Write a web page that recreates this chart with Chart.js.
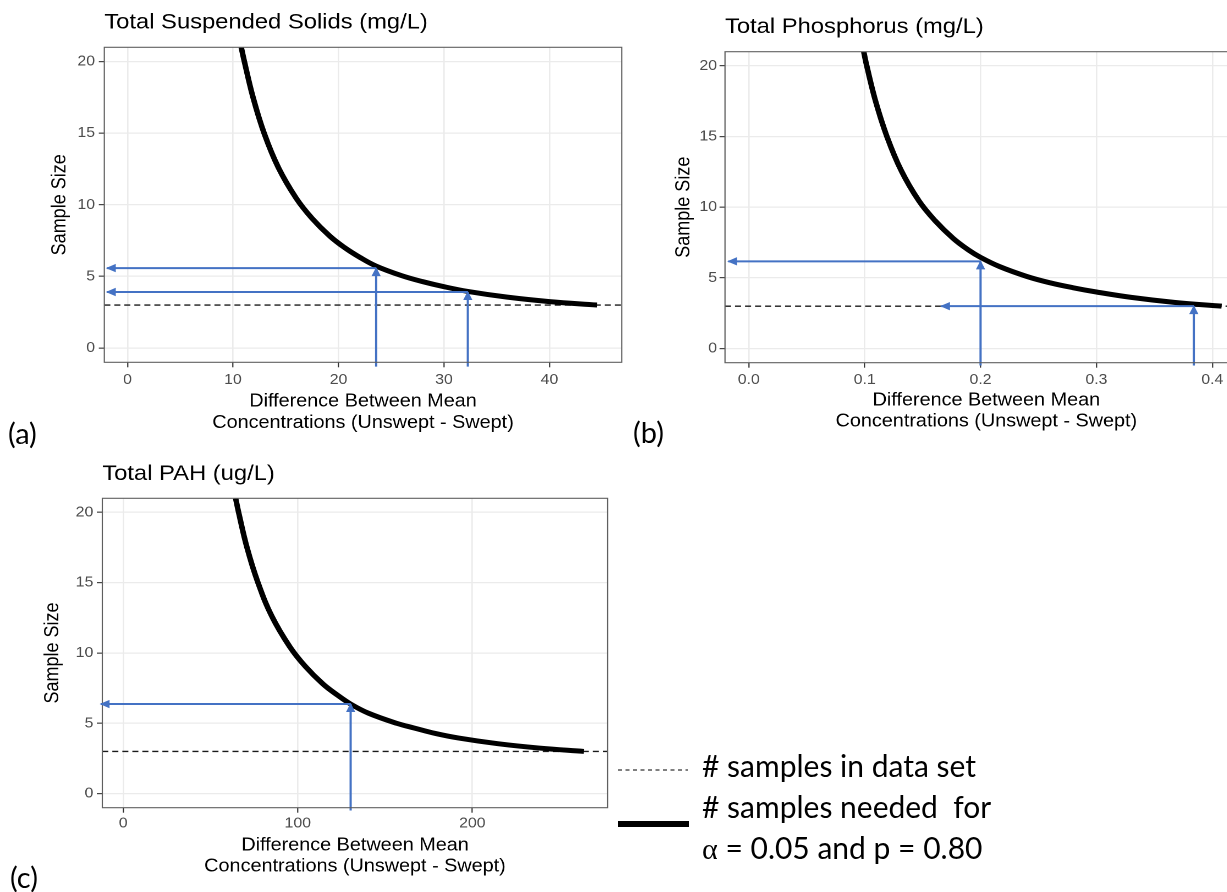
<!DOCTYPE html>
<html>
<head>
<meta charset="utf-8">
<title>Sample size vs difference between means</title>
<script src="https://cdn.jsdelivr.net/npm/chart.js@4.4.1/dist/chart.umd.min.js"></script>
<style>
  html, body { margin: 0; padding: 0; background: #fff; }
  body { width: 1227px; height: 892px; position: relative; overflow: hidden; }
  canvas.panel { position: absolute; transform-origin: 0 0; transform: scaleX(1.1); }
  #overlay { position: absolute; left: 0; top: 0; }
</style>
</head>
<body>
<canvas id="chartA" class="panel" width="570" height="440" style="left:0px;top:0px"></canvas>
<canvas id="chartB" class="panel" width="568" height="440" style="left:630px;top:0px"></canvas>
<canvas id="chartC" class="panel" width="556" height="442" style="left:0px;top:450px"></canvas>

<svg id="overlay" width="1227" height="892" xmlns="http://www.w3.org/2000/svg">
  <g font-family="Lato, 'Open Sans', sans-serif" fill="#000">
    <text x="8" y="444" font-size="29">(a)</text>
    <text x="633" y="443" font-size="29">(b)</text>
    <text x="10" y="888" font-size="29">(c)</text>
    <line x1="618" y1="770" x2="688" y2="770" stroke="#000" stroke-width="1" stroke-dasharray="4 3.5"></line>
    <line x1="618" y1="824" x2="689" y2="824" stroke="#000" stroke-width="6"></line>
    <text x="702" y="777" font-size="30">&#35; samples in data set</text>
    <text x="702" y="818" font-size="30" style="white-space:pre"># samples needed  for</text>
    <text x="702" y="859" font-size="30"><tspan font-family="'Liberation Serif', serif">α</tspan> = 0.05 and p = 0.80</text>
  </g>
</svg>

<script>
'use strict';

// ---------- data ----------
var yTicks = [0, 5, 10, 15, 20];
var yTickLabels = ['0', '5', '10', '15', '20'];
var samplesInDataSet = 3;

// (a) Total Suspended Solids
var tssDiff = [10.78, 11.08, 11.9, 12.95, 14.3, 16.0, 17.5, 19.2, 20.6, 22.05, 23.57, 26, 28, 30, 32.26, 36, 40, 44.5];
var tssSize = [21, 20, 17.5, 15, 12.6, 10.45, 9.05, 7.8, 7.0, 6.32, 5.72, 5.05, 4.63, 4.28, 3.95, 3.55, 3.24, 3.0];
var tssTicks = [0, 10, 20, 30, 40];
var tssTickLabels = ['0', '10', '20', '30', '40'];
var tssArrowDiff = [23.57, 32.26];
var tssArrowSize = [5.58, 3.91];
var tssArrowTip = [-1.95, -1.95];

// (b) Total Phosphorus
var tpDiff = [0.0992, 0.1018, 0.1094, 0.1192, 0.1315, 0.1468, 0.1607, 0.1763, 0.1891, 0.2, 0.2164, 0.24, 0.26, 0.28, 0.3, 0.33, 0.367, 0.408];
var tpSize = [21, 20, 17.5, 15, 12.6, 10.45, 9.05, 7.8, 7.0, 6.45, 5.8, 5.1, 4.65, 4.3, 4.0, 3.62, 3.27, 3.0];
var tpTicks = [0, 0.1, 0.2, 0.3, 0.4];
var tpTickLabels = ['0.0', '0.1', '0.2', '0.3', '0.4'];
var tpArrowDiff = [0.2, 0.384];
var tpArrowSize = [6.17, 3.0];
var tpArrowTip = [-0.0177, 0.166];

// (c) Total PAH
var pahDiff = [64.4, 66.1, 70.9, 77.2, 85.2, 95.4, 104.3, 114.4, 122.8, 130.3, 140.5, 156.7, 166.9, 178.8, 192.3, 214.6, 238.4, 264];
var pahSize = [21, 20, 17.5, 15, 12.6, 10.45, 9.05, 7.8, 7.0, 6.37, 5.72, 5.0, 4.66, 4.28, 3.95, 3.55, 3.24, 3.0];
var pahTicks = [0, 100, 200];
var pahTickLabels = ['0', '100', '200'];
var pahArrowDiff = [130.3];
var pahArrowSize = [6.37];
var pahArrowTip = [-12.9];

// ---------- look ----------
var STRETCH = 1.1;
var FONT = "'Liberation Sans', Arial, Helvetica, sans-serif";
var TICK_LEN = 5;
var TITLE_FONT = { family: FONT, size: 21.6, lineHeight: 1.2, weight: 'normal' };
var AXIS_FONT = { family: FONT, size: 18, lineHeight: 1.18, weight: 'normal' };
var TICK_FONT = { family: FONT, size: 14.4, lineHeight: 1.2, weight: 'normal' };
var ARROW_BLUE = '#4472C4';

/** page-pixel placement of each panel */
var layoutA = { left: 0, top: 0, area: [104.3, 47.3, 621.7, 362.3], titleY: 22.5, yTitleX: 60, yLabelRight: 95, xLabelY: 380, xTitleY: 423 };
var layoutB = { left: 630, top: 0, area: [725, 51.7, 1247.7, 362.7], titleY: 27, yTitleX: 684, yLabelRight: 717, xLabelY: 380, xTitleY: 421.7 };
var layoutC = { left: 0, top: 450, area: [102.3, 498.3, 607.7, 807.7], titleY: 474, yTitleX: 53, yLabelRight: 93.3, xLabelY: 823.3, xTitleY: 866.7 };

/** zip two arrays into {x, y} points */
function toPoints(xs, ys) {
  return xs.map(function (x, i) { return { x: x, y: ys[i] }; });
}

function drawArrowHead(ctx, from, to, color) {
  var ang = Math.atan2(to.y - from.y, to.x - from.x);
  ctx.save();
  ctx.translate(to.x, to.y);
  ctx.rotate(ang);
  ctx.fillStyle = color;
  ctx.beginPath();
  ctx.moveTo(1, 0);
  ctx.lineTo(-8, -4.2);
  ctx.lineTo(-8, 4.2);
  ctx.closePath();
  ctx.fill();
  ctx.restore();
}

/** dashed reference line, panel border and arrow heads */
var panelDecor = {
  id: 'panelDecor',
  beforeDatasetsDraw: function (chart, args, opts) {
    var ctx = chart.ctx;
    var area = chart.chartArea;
    var y = chart.scales.y.getPixelForValue(opts.refLine);
    ctx.save();
    ctx.beginPath();
    ctx.rect(area.left, area.top, area.width, area.height);
    ctx.clip();
    ctx.setLineDash([5.5, 3.6]);
    ctx.strokeStyle = '#1a1a1a';
    ctx.lineWidth = 1.4;
    ctx.beginPath();
    ctx.moveTo(area.left, y);
    ctx.lineTo(area.right, y);
    ctx.stroke();
    ctx.restore();
  },
  afterDatasetsDraw: function (chart) {
    var ctx = chart.ctx;
    var area = chart.chartArea;
    ctx.save();
    ctx.strokeStyle = '#5f5f5f';
    ctx.lineWidth = 1.1;
    ctx.strokeRect(area.left, area.top, area.width, area.height);
    ctx.restore();
    chart.data.datasets.forEach(function (ds, i) {
      if (!ds.arrow) return;
      var pts = chart.getDatasetMeta(i).data;
      drawArrowHead(ctx, pts[pts.length - 2], pts[pts.length - 1], ds.borderColor);
    });
  }
};

function arrowDataset(points) {
  return {
    data: points,
    arrow: true,
    showLine: true,
    borderColor: ARROW_BLUE,
    borderWidth: 2,
    pointRadius: 0,
    clip: false
  };
}

function makeChart(canvasId, spec, lay) {
  var canvas = document.getElementById(canvasId);
  var W = canvas.width;
  var H = canvas.height;
  var s = STRETCH;
  var cl = (lay.area[0] - lay.left) / s;
  var ct = lay.area[1] - lay.top;
  var cr = (lay.area[2] - lay.left) / s;
  var cb = lay.area[3] - lay.top;

  var titleLH = TITLE_FONT.size * TITLE_FONT.lineHeight;
  var axisLH = AXIS_FONT.size * AXIS_FONT.lineHeight;
  var tickLH = TICK_FONT.size * TICK_FONT.lineHeight;
  var titlePadTop = lay.titleY - lay.top - titleLH / 2;
  var titlePadBottom = ct - titlePadTop - titleLH;

  var datasets = [];
  spec.arrowDiff.forEach(function (d, i) {
    datasets.push(arrowDataset([{ x: d, y: spec.arrowBase }, { x: d, y: spec.arrowSize[i] }]));
    datasets.push(arrowDataset([{ x: d, y: spec.arrowSize[i] }, { x: spec.arrowTip[i], y: spec.arrowSize[i] }]));
  });
  datasets.push({
    data: toPoints(spec.diff, spec.size),
    showLine: true,
    borderColor: '#000',
    borderWidth: 5,
    borderJoinStyle: 'round',
    pointRadius: 0,
    tension: 0.4,
    clip: 0
  });

  return new Chart(canvas, {
    type: 'scatter',
    data: { datasets: datasets },
    plugins: [panelDecor],
    options: {
      responsive: false,
      animation: false,
      devicePixelRatio: 2,
      layout: { padding: { left: 0, top: 0, right: W - cr, bottom: 0 } },
      plugins: {
        legend: { display: false },
        tooltip: { enabled: false },
        title: {
          display: true,
          text: spec.title,
          align: 'start',
          fullSize: false,
          color: '#000',
          font: TITLE_FONT,
          padding: { top: titlePadTop, bottom: titlePadBottom }
        },
        panelDecor: { refLine: samplesInDataSet }
      },
      scales: {
        x: {
          type: 'linear',
          min: spec.xMin,
          max: spec.xMax,
          afterBuildTicks: function (scale) {
            scale.ticks = spec.xTicks.map(function (v) { return { value: v }; });
          },
          afterFit: function (scale) { scale.height = H - cb; },
          ticks: {
            autoSkip: false,
            maxRotation: 0,
            color: '#4d4d4d',
            font: TICK_FONT,
            padding: lay.xLabelY - lay.area[3] - TICK_LEN - tickLH / 2,
            callback: function (v, i) { return spec.xTickLabels[i]; }
          },
          grid: { color: '#ebebeb', lineWidth: 1.3, tickLength: TICK_LEN, tickColor: '#333', tickWidth: 1.1 },
          border: { display: false },
          title: {
            display: true,
            text: ['Difference Between Mean', 'Concentrations (Unswept - Swept)'],
            color: '#000',
            font: AXIS_FONT,
            padding: { top: 0, bottom: H - (lay.xTitleY - lay.top) - axisLH / 2 }
          }
        },
        y: {
          type: 'linear',
          min: -1,
          max: 21,
          afterBuildTicks: function (scale) {
            scale.ticks = yTicks.map(function (v) { return { value: v }; });
          },
          afterFit: function (scale) { scale.width = cl; },
          ticks: {
            color: '#4d4d4d',
            font: TICK_FONT,
            padding: cl - TICK_LEN - (lay.yLabelRight - lay.left) / s,
            callback: function (v, i) { return yTickLabels[i]; }
          },
          grid: { color: '#ebebeb', lineWidth: 1.3, tickLength: TICK_LEN, tickColor: '#333', tickWidth: 1.1 },
          border: { display: false },
          title: {
            display: true,
            text: 'Sample Size',
            color: '#000',
            font: AXIS_FONT,
            padding: { top: (lay.yTitleX - lay.left) / s - axisLH / 2, bottom: 0 }
          }
        }
      }
    }
  });
}

makeChart('chartA', {
  title: 'Total Suspended Solids (mg/L)',
  diff: tssDiff, size: tssSize,
  xTicks: tssTicks, xTickLabels: tssTickLabels, xMin: -2.2, xMax: 46.85,
  arrowDiff: tssArrowDiff, arrowSize: tssArrowSize, arrowTip: tssArrowTip, arrowBase: -1.3
}, layoutA);

makeChart('chartB', {
  title: 'Total Phosphorus (mg/L)',
  diff: tpDiff, size: tpSize,
  xTicks: tpTicks, xTickLabels: tpTickLabels, xMin: -0.0205, xMax: 0.4305,
  arrowDiff: tpArrowDiff, arrowSize: tpArrowSize, arrowTip: tpArrowTip, arrowBase: -1.2
}, layoutB);

makeChart('chartC', {
  title: 'Total PAH (ug/L)',
  diff: pahDiff, size: pahSize,
  xTicks: pahTicks, xTickLabels: pahTickLabels, xMin: -12.0, xMax: 277.6,
  arrowDiff: pahArrowDiff, arrowSize: pahArrowSize, arrowTip: pahArrowTip, arrowBase: -1.2
}, layoutC);
</script>
</body>
</html>
